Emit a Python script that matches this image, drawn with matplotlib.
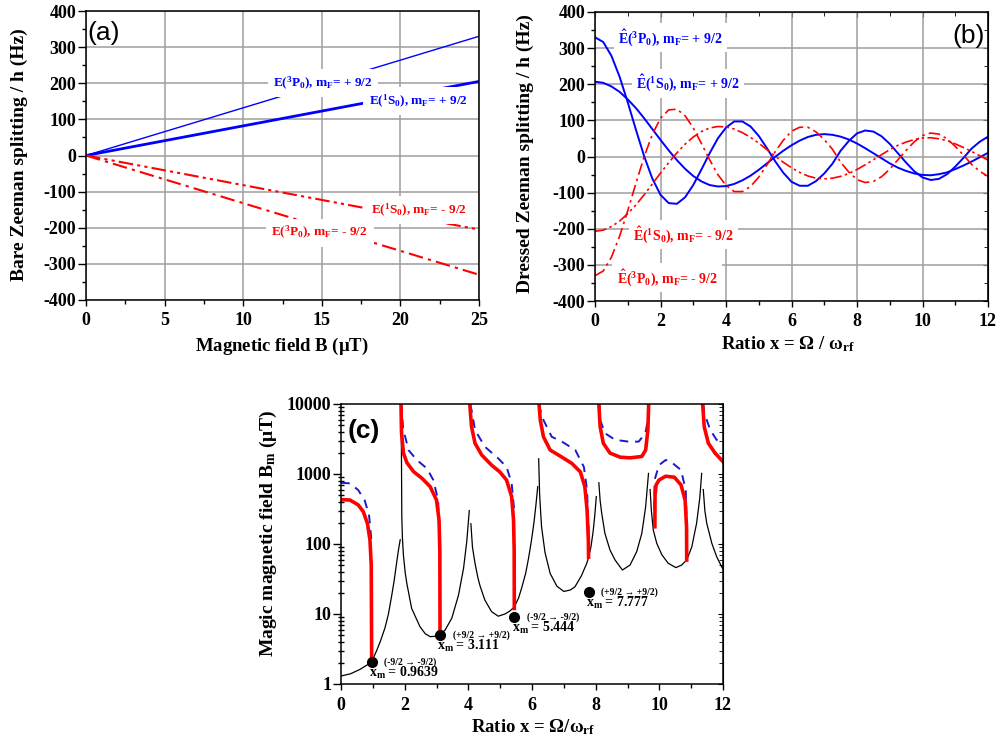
import numpy as np
import matplotlib
matplotlib.use("Agg")
import matplotlib.pyplot as plt
from matplotlib.ticker import MultipleLocator, FixedLocator, LogLocator, NullFormatter

plt.rcParams['font.family'] = ['Liberation Serif', 'DejaVu Sans']
plt.rcParams['font.weight'] = 'bold'
plt.rcParams['mathtext.fontset'] = 'custom'
plt.rcParams['mathtext.rm'] = 'Liberation Serif:bold'
plt.rcParams['mathtext.it'] = 'Liberation Serif:bold'
plt.rcParams['mathtext.bf'] = 'Liberation Serif:bold'
plt.rcParams['mathtext.default'] = 'rm'
plt.rcParams['axes.unicode_minus'] = False

# ---- panel (a): bare Zeeman splitting, linear in B
B_a = [0, 25]
E3P0_plus_a = [0, 330]
E1S0_plus_a = [0, 205]
E1S0_minus_a = [0, -205]
E3P0_minus_a = [0, -330]

# ---- panel (b): dressed Zeeman splitting vs ratio x (read every 0.25)
x_b = np.linspace(0, 12, 49)
E1S0_plus_b = [207, 204, 194, 179, 158, 134, 106, 76, 46, 17, -10, -34, -54, -69, -79, -83,
               -82, -76, -66, -53, -37, -19, -1, 16, 31, 44, 54, 60, 62, 60, 55, 47,
               36, 23, 9, -5, -19, -31, -40, -47, -51, -52, -49, -44, -35, -25, -14, -2, 10]
E3P0_plus_b = [330, 317, 279, 221, 150, 74, 1, -61, -106, -129, -131, -113, -79, -36, 9, 50,
               80, 97, 97, 83, 57, 23, -13, -45, -70, -81, -81, -68, -47, -20, 16, 43,
               64, 72, 69, 56, 35, 9, -17, -41, -58, -65, -62, -49, -28, -4, 22, 41, 55]
E1S0_minus_b = [-207, -204, -194, -179, -158, -134, -106, -76, -46, -17, 10, 34, 54, 69, 79, 83,
                82, 76, 66, 53, 37, 19, 1, -16, -31, -44, -54, -60, -62, -60, -55, -47,
                -36, -23, -9, 5, 19, 31, 40, 47, 51, 52, 49, 44, 35, 25, 14, 2, -10]
E3P0_minus_b = [-330, -317, -279, -221, -150, -74, -1, 61, 106, 129, 131, 113, 79, 36, -9, -50,
                -80, -97, -97, -83, -57, -23, 13, 45, 70, 81, 81, 68, 47, 20, -16, -43,
                -64, -72, -69, -56, -35, -9, 17, 41, 58, 65, 62, 49, 28, 4, -22, -41, -55]

# ---- panel (c): magic magnetic field, one list per branch
black_x = [[0, 0.3, 0.6, 0.96, 1.12, 1.23, 1.38, 1.49, 1.59, 1.67, 1.75, 1.81, 1.86],
           [1.895, 1.91, 1.93, 1.96, 2.02, 2.07, 2.22, 2.48, 2.65, 2.8, 2.95, 3.11, 3.27,
            3.48, 3.69, 3.85, 3.95, 4.03],
           [4.08, 4.13, 4.21, 4.3, 4.37, 4.52, 4.73, 4.94, 5.15, 5.3, 5.44, 5.58, 5.68, 5.8,
            5.89, 5.98, 6.06, 6.12, 6.18],
           [6.21, 6.24, 6.3, 6.41, 6.57, 6.78, 7.0, 7.2, 7.35, 7.55, 7.72, 7.78, 7.85, 7.92,
            7.97, 8.02],
           [8.1, 8.14, 8.19, 8.29, 8.45, 8.61, 8.84, 9.08, 9.29, 9.45, 9.57, 9.66],
           [9.71, 9.75, 9.81, 9.92, 10.08, 10.28, 10.52, 10.7, 10.86, 11.02, 11.17, 11.27, 11.33],
           [11.38, 11.43, 11.49, 11.65, 11.8, 11.96, 12.0]]
black_y = [[1.3, 1.4, 1.62, 2.05, 3.0, 4.0, 6.3, 10, 18, 30, 55, 85, 115],
           [3800, 250, 120, 70, 38, 27, 12, 6.6, 5.2, 4.75, 4.8, 5.1, 5.9, 8.7, 18.5, 45, 108, 300],
           [195, 90, 53, 33, 25, 15.8, 10.8, 9.3, 10.0, 11, 12.5, 17, 24, 38, 62, 110, 200, 350, 660],
           [1650, 500, 176, 75, 38, 25, 21, 22, 24.5, 35, 53, 65, 90, 150, 250, 475],
           [750, 420, 275, 142, 82, 59, 42.5, 50, 78, 142, 340, 1020],
           [600, 300, 158, 102, 70, 53, 46, 50, 59, 91, 197, 450, 1020],
           [600, 300, 197, 102, 66, 47, 44]]

red_x = [[0.0, 0.28, 0.54, 0.70, 0.83, 0.91, 0.95, 0.9639],
         [1.885, 1.90, 1.96, 2.07, 2.28, 2.54, 2.80, 3.0, 3.08, 3.105, 3.111],
         [4.045, 4.10, 4.21, 4.42, 4.73, 4.99, 5.20, 5.36, 5.42, 5.44, 5.444],
         [6.22, 6.26, 6.36, 6.57, 6.94, 7.25, 7.52, 7.66, 7.73, 7.77, 7.777],
         [8.10, 8.14, 8.24, 8.45, 8.77, 9.08, 9.45, 9.57, 9.64, 9.665],
         [9.86, 9.865, 9.90, 9.99, 10.2, 10.47, 10.68, 10.81, 10.855, 10.86],
         [11.36, 11.41, 11.54, 11.75, 12.0]]
red_y = [[430, 425, 362, 290, 197, 114, 50, 2.05],
         [10000, 4000, 2000, 1450, 1080, 870, 660, 425, 220, 80, 5.0],
         [10000, 4750, 2750, 1870, 1340, 1070, 820, 475, 220, 82, 12],
         [10000, 5900, 3400, 2200, 1740, 1420, 1070, 660, 307, 114, 65],
         [10000, 4750, 2750, 1990, 1740, 1700, 1780, 2200, 4250, 10000],
         [176, 500, 700, 820, 930, 900, 700, 425, 176, 59],
         [10000, 4750, 2750, 1990, 1500]]

blue_x = [[0, 0.28, 0.54, 0.74, 0.88, 0.95, 0.96],
          [1.90, 1.95, 2.12, 2.38, 2.70, 2.90, 3.05, 3.10],
          [4.06, 4.10, 4.21, 4.52, 4.94, 5.20, 5.36, 5.43, 5.44],
          [6.22, 6.26, 6.36, 6.62, 6.94, 7.36, 7.63, 7.73, 7.78],
          [8.12, 8.14, 8.30, 8.61, 9.03, 9.35, 9.56, 9.64, 9.66],
          [9.84, 9.85, 9.99, 10.2, 10.36, 10.68, 10.83, 10.86],
          [11.38, 11.41, 11.60, 11.80, 12.0]]
blue_y = [[750, 735, 590, 425, 260, 120, 100],
          [10000, 4500, 2200, 1585, 1200, 820, 425, 100],
          [10000, 8200, 4250, 2450, 1670, 1260, 740, 340, 100],
          [10000, 8200, 5900, 3400, 2900, 2200, 1260, 590, 142],
          [10000, 5900, 3800, 3080, 2900, 2900, 3800, 5900, 10000],
          [307, 820, 1340, 1585, 1500, 1140, 590, 176],
          [10000, 7500, 4250, 3080, 2600]]

xm_vals = [0.9639, 3.111, 5.444, 7.777]
Bm_dots = [2.05, 5.0, 9.0, 20.4]
xm_text = ['0.9639', '3.111', '5.444', '7.777']
xm_trans = ['(-9/2 \u2192 -9/2)', '(+9/2 \u2192 +9/2)', '(-9/2 \u2192 -9/2)', '(+9/2 \u2192 +9/2)']

fig = plt.figure(figsize=(10, 7.42), dpi=100)
W, H = 1000.0, 742.0


def px_axes(l, t, r, b):
    return fig.add_axes([l / W, 1 - b / H, (r - l) / W, (b - t) / H])


def style_common(ax):
    for s in ax.spines.values():
        s.set_linewidth(1.1)
    ax.tick_params(which='major', direction='out', width=1, labelsize=13)
    ax.tick_params(axis='y', which='major', length=5.5, pad=1.5)
    ax.tick_params(axis='x', which='major', length=4, pad=5)
    ax.tick_params(which='minor', direction='out', length=3, width=1)


def bold_ticks(ax):
    for lab in ax.get_xticklabels() + ax.get_yticklabels():
        lab.set_fontweight('bold')


blue = '#0000ff'
red = '#ff0000'
dashdot = (0, (7, 2.5, 1.5, 2.5))
dashdotdot = (0, (7, 2, 1.5, 2, 1.5, 2))
xlab_fs = 13.5
ylab_fs = 14

# ---------------- (a)
axa = px_axes(86, 11, 479, 300)
axa.plot(B_a, E3P0_plus_a, color=blue, lw=1.0)
axa.plot(B_a, E1S0_plus_a, color=blue, lw=2.0)
axa.plot(B_a, E1S0_minus_a, color=red, lw=1.5, ls=dashdotdot)
axa.plot(B_a, E3P0_minus_a, color=red, lw=1.5, ls=dashdot)
axa.set_xlim(0, 25)
axa.set_ylim(-400, 400)
axa.xaxis.set_major_locator(MultipleLocator(5))
axa.xaxis.set_minor_locator(MultipleLocator(2.5))
axa.yaxis.set_major_locator(MultipleLocator(100))
axa.yaxis.set_minor_locator(MultipleLocator(50))
axa.grid(True, which='major', color='0.62', lw=1.1)
axa.set_axisbelow(True)
style_common(axa)
bb = dict(facecolor='white', edgecolor='none', pad=4)
axa.text(11.9, 200, r'E($^3$P$_0$), m$_F$= + 9/2', color=blue, fontsize=9.5, va='center', bbox=bb)
axa.text(18.0, 150, r'E($^1$S$_0$), m$_F$= + 9/2', color=blue, fontsize=9.5, va='center', bbox=bb)
axa.text(18.1, -152, r'E($^1$S$_0$), m$_F$= - 9/2', color=red, fontsize=9.5, va='center', bbox=bb)
axa.text(11.8, -214, r'E($^3$P$_0$), m$_F$= - 9/2', color=red, fontsize=9.5, va='center', bbox=bb)
axa.text(0.004, 0.925, '(a)', transform=axa.transAxes, family='Liberation Sans', fontweight='normal',
         fontsize=19, va='center', ha='left')
fig.text(19.5 / W, 1 - 155 / H, 'Bare Zeeman splitting / h (Hz)', rotation=90, ha='center', va='center',
         fontsize=ylab_fs)
fig.text(282 / W, 1 - 350.5 / H, r'Magnetic field B ($\mu$T)', ha='center', va='baseline', fontsize=xlab_fs)

# ---------------- (b)
axb = px_axes(595, 12, 988, 301)
axb.plot(x_b, E3P0_plus_b, color=blue, lw=1.4)
axb.plot(x_b, E1S0_plus_b, color=blue, lw=1.4)
axb.plot(x_b, E3P0_minus_b, color=red, lw=1.2, ls=dashdot)
axb.plot(x_b, E1S0_minus_b, color=red, lw=1.2, ls=dashdotdot)
axb.set_xlim(0, 12)
axb.set_ylim(-400, 400)
axb.xaxis.set_major_locator(MultipleLocator(2))
axb.xaxis.set_minor_locator(MultipleLocator(1))
axb.yaxis.set_major_locator(MultipleLocator(100))
axb.yaxis.set_minor_locator(MultipleLocator(50))
axb.grid(True, which='major', color='0.62', lw=1.1)
axb.set_axisbelow(True)
style_common(axb)
topb = axb.secondary_xaxis('top')
topb.xaxis.set_major_locator(MultipleLocator(2))
topb.xaxis.set_minor_locator(MultipleLocator(1))
topb.tick_params(which='both', direction='in', labeltop=False)
topb.tick_params(which='minor', length=3)
rightb = axb.secondary_yaxis('right')
rightb.yaxis.set_major_locator(MultipleLocator(100))
rightb.yaxis.set_minor_locator(MultipleLocator(50))
rightb.tick_params(which='both', direction='in', labelright=False)
rightb.tick_params(which='minor', length=3)
bb2 = dict(facecolor='white', edgecolor='none', pad=3)
axb.text(0.71, 329, r'$\hat{\mathrm{E}}$($^3$P$_0$), m$_F$= + 9/2', color=blue, fontsize=10, va='center', bbox=bb2)
axb.text(1.25, 203, r'$\hat{\mathrm{E}}$($^1$S$_0$), m$_F$= + 9/2', color=blue, fontsize=10, va='center', bbox=bb2)
axb.text(1.17, -217, r'$\hat{\mathrm{E}}$($^1$S$_0$), m$_F$= - 9/2', color=red, fontsize=10, va='center', bbox=bb2)
axb.text(0.66, -335, r'$\hat{\mathrm{E}}$($^3$P$_0$), m$_F$= - 9/2', color=red, fontsize=10, va='center', bbox=bb2)
axb.text(0.992, 0.917, '(b)', transform=axb.transAxes, family='Liberation Sans', fontweight='normal',
         fontsize=19, va='center', ha='right')
fig.text(525.5 / W, 1 - 154 / H, 'Dressed Zeeman splitting / h (Hz)', rotation=90, ha='center', va='center',
         fontsize=ylab_fs)
fig.text(788 / W, 1 - 349.5 / H, r'Ratio x = $\Omega$ / $\omega_{\mathrm{rf}}$', ha='center', va='baseline',
         fontsize=xlab_fs)

# ---------------- (c)
axc = px_axes(341, 404, 723, 684)
for xs, ys in zip(black_x, black_y):
    axc.plot(xs, ys, color='black', lw=0.9)
for xs, ys in zip(blue_x, blue_y):
    axc.plot(xs, ys, color='#1a1acc', lw=1.4, ls=(0, (4.5, 3.5)))
for xs, ys in zip(red_x, red_y):
    axc.plot(xs, ys, color=red, lw=2.6)
axc.plot(xm_vals, Bm_dots, 'o', color='black', ms=7, zorder=5)
for xv, yv, t1, t2 in zip(xm_vals, Bm_dots, xm_trans, xm_text):
    axc.annotate(t1, (xv, yv), xytext=(9, 0), textcoords='offset points', fontsize=7,
                 ha='left', va='center')
    axc.annotate(r'x$_m$ = ' + t2, (xv, yv), xytext=(-2, -8), textcoords='offset points', fontsize=10,
                 ha='left', va='center')
axc.set_yscale('log')
axc.set_xlim(0, 12)
axc.set_ylim(1, 10000)
axc.xaxis.set_major_locator(MultipleLocator(2))
axc.xaxis.set_minor_locator(MultipleLocator(1))
axc.yaxis.set_major_locator(FixedLocator([1, 10, 100, 1000, 10000]))
axc.yaxis.set_minor_locator(LogLocator(base=10, subs=np.arange(2, 10)))
axc.yaxis.set_minor_formatter(NullFormatter())
axc.set_yticklabels(['1', '10', '100', '1000', '10000'])
style_common(axc)
axc.tick_params(axis='y', which='minor', direction='inout', length=4)
rightc = axc.secondary_yaxis('right')
rightc.set_yscale('log')
rightc.yaxis.set_major_locator(FixedLocator([1, 10, 100, 1000, 10000]))
rightc.yaxis.set_minor_locator(LogLocator(base=10, subs=np.arange(2, 10)))
rightc.tick_params(which='both', direction='in', labelright=False)
rightc.tick_params(which='minor', length=3)
axc.text(0.018, 0.905, '(c)', transform=axc.transAxes, family='Liberation Sans', fontweight='bold',
         fontsize=19, va='center', ha='left')
fig.text(268 / W, 1 - 533 / H, r'Magic magnetic field B$_\mathrm{m}$ ($\mu$T)', rotation=90, ha='center',
         va='center', fontsize=ylab_fs)
fig.text(533 / W, 1 - 732 / H, r'Ratio x = $\Omega$/$\omega_{\mathrm{rf}}$', ha='center', va='baseline',
         fontsize=xlab_fs)

for a in (axa, axb, axc):
    bold_ticks(a)

fig.savefig('out.png', dpi=100)
